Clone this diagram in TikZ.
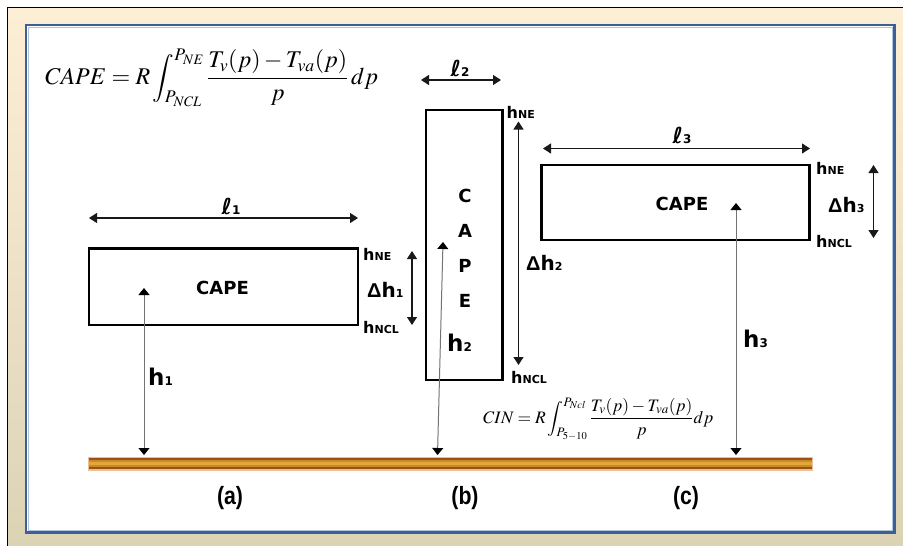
\documentclass[tikz,border=0pt]{standalone}
\usepackage{mathptmx}
\usepackage{fontspec}
\usetikzlibrary{arrows.meta}
\newfontfamily\capefont{DejaVu Sans}
\newfontfamily\deltafont{Liberation Sans}
\newfontfamily\narrowfont[FakeStretch=0.85]{Liberation Sans Bold}
\definecolor{bgtop}{HTML}{FDEFD6}
\definecolor{bgbot}{HTML}{DCD3B5}
\definecolor{panelblue}{HTML}{3C5F96}
\definecolor{panelinner}{HTML}{AFC3DD}
\definecolor{woodedge}{HTML}{E9C09A}
\definecolor{wooddark}{HTML}{9E4F12}
\definecolor{woodmid}{HTML}{C98A2A}
\definecolor{woodgold}{HTML}{E2A83C}
\newcommand\hsub[1]{{\fontsize{16}{16}\selectfont h}{\fontsize{11}{11}\selectfont #1}}
\newcommand\bigh[1]{{\fontsize{23}{23}\selectfont h}{\fontsize{12}{12}\selectfont #1}}
\newcommand\delh[1]{{\deltafont\fontsize{20}{20}\selectfont Δ}{\fontsize{20}{20}\selectfont h}{\fontsize{11}{11}\selectfont #1}}
\newcommand\ellab[1]{{\fontsize{22}{22}\selectfont\itshape ℓ}{\fontsize{12}{12}\selectfont #1}}
\tikzset{
  capebox/.style={draw=black, line width=2.6pt, inner sep=0pt},
  capetext/.style={font=\capefont\bfseries\fontsize{18}{18}\selectfont, inner sep=0pt},
  lab/.style={font=\capefont\bfseries, inner sep=0pt, anchor=west},
  dimarrow/.style={{Triangle[length=8pt,width=10pt]}-{Triangle[length=8pt,width=10pt]}, line width=1.1pt, draw=black!90},
  hgtarrow/.style={{Triangle[length=7pt,width=11pt,color=black]}-{Triangle[length=7pt,width=11pt,color=black]}, line width=1pt, draw=black!55},
  caption/.style={font=\narrowfont\fontsize{25}{25}\selectfont, inner sep=0pt}
}
\begin{document}
\begin{tikzpicture}[x=1pt,y=-1pt]
\useasboundingbox (0,0) rectangle (903,546);
% background frame
\fill[top color=bgtop,bottom color=bgbot] (7.5,7.5) rectangle (903,546);
\draw[line width=1.8pt] (7.5,546) -- (7.5,7.5) -- (903,7.5);
\fill[white] (26,25) rectangle (894.5,532.5);
\draw[panelinner, line width=0.8pt] (28.2,27.2) rectangle (892.3,530.3);
\draw[panelblue, line width=2.6pt] (26,25) rectangle (894.5,532.5);

% ground bar
\fill[woodedge] (88,456.7) rectangle (813,470.7);
\fill[wooddark] (88.8,458) rectangle (812.2,469.4);
\fill[woodmid] (88.8,460.3) rectangle (812.2,467.1);
\fill[woodgold] (88.8,462.3) rectangle (812.2,465.1);

% formulas
\node[inner sep=0pt, anchor=base west, font=\fontsize{24}{29}\selectfont] (fcape) at (45,84)
  {$\displaystyle CAPE = R\int_{P_{NCL}}^{P_{NE}} \frac{T_v(p) - T_{va}(p)}{p}\,dp$};
\node[inner sep=0pt, anchor=base west, font=\fontsize{17.5}{21}\selectfont] (fcin) at (483,423)
  {$\displaystyle CIN = R\int_{P_{5-10}}^{P_{Ncl}} \frac{T_v(p) - T_{va}(p)}{p}dp$};

% boxes
\node[capebox, minimum width=269pt, minimum height=76.5pt] (box1) at (223.5,286.7) {};
\node[capetext] (cape1) at (222.5,288) {CAPE};
\node[capebox, minimum width=76.7pt, minimum height=270pt] (box2) at (464.3,245) {};
\node[capetext, align=center, font=\capefont\bfseries\fontsize{18}{35}\selectfont] (cape2) at (465,248) {C\\A\\P\\E};
\node[capebox, minimum width=267.6pt, minimum height=75pt] (box3) at (675.5,202.5) {};
\node[capetext] (cape3) at (682,203.5) {CAPE};

% width arrows
\coordinate (l1a) at (89,218);  \coordinate (l1b) at (358,218);
\coordinate (l2a) at (421,80);  \coordinate (l2b) at (501,80);
\coordinate (l3a) at (543,148.5); \coordinate (l3b) at (810,148.5);
\draw[dimarrow] (l1a) -- (l1b);
\draw[dimarrow] (l2a) -- (l2b);
\draw[dimarrow] (l3a) -- (l3b);
\node[lab, anchor=center] (ell1) at (231,206) {\ellab{1}};
\node[lab, anchor=center] (ell2) at (460,68) {\ellab{2}};
\node[lab, anchor=center] (ell3) at (682,135) {\ellab{3}};

% depth arrows
\coordinate (d1a) at (412,251);   \coordinate (d1b) at (412,325);
\coordinate (d2a) at (518.5,121.5); \coordinate (d2b) at (518.5,365);
\coordinate (d3a) at (873.5,165); \coordinate (d3b) at (873.5,238);
\draw[dimarrow] (d1a) -- (d1b);
\draw[dimarrow] (d2a) -- (d2b);
\draw[dimarrow] (d3a) -- (d3b);
\node[lab] (dh1) at (367,290) {\delh{1}};
\node[lab] (dh2) at (526,263) {\delh{2}};
\node[lab] (dh3) at (828,205) {\delh{3}};

% level labels
\node[lab] (ne1) at (363,254) {\hsub{NE}};
\node[lab] (ncl1) at (363,327) {\hsub{NCL}};
\node[lab] (ne2) at (506.5,112) {\hsub{NE}};
\node[lab] (ncl2) at (511,377) {\hsub{NCL}};
\node[lab] (ne3) at (816,168) {\hsub{NE}};
\node[lab] (ncl3) at (816,241) {\hsub{NCL}};

% height arrows
\coordinate (h1a) at (144,288);   \coordinate (h1b) at (144,455);
\coordinate (h2a) at (443,242);   \coordinate (h2b) at (437.5,455);
\coordinate (h3a) at (736,203);   \coordinate (h3b) at (736,455);
\draw[hgtarrow] (h1a) -- (h1b);
\draw[hgtarrow] (h2a) -- (h2b);
\draw[hgtarrow] (h3a) -- (h3b);
\node[lab] (hl1) at (148,377) {\bigh{1}};
\node[lab] (hl2) at (447,343) {\bigh{2}};
\node[lab] (hl3) at (743,339) {\bigh{3}};

% captions
\node[caption] (ca) at (230,498) {(a)};
\node[caption] (cb) at (465,498) {(b)};
\node[caption] (cc) at (686,498) {(c)};
\end{tikzpicture}
\end{document}
